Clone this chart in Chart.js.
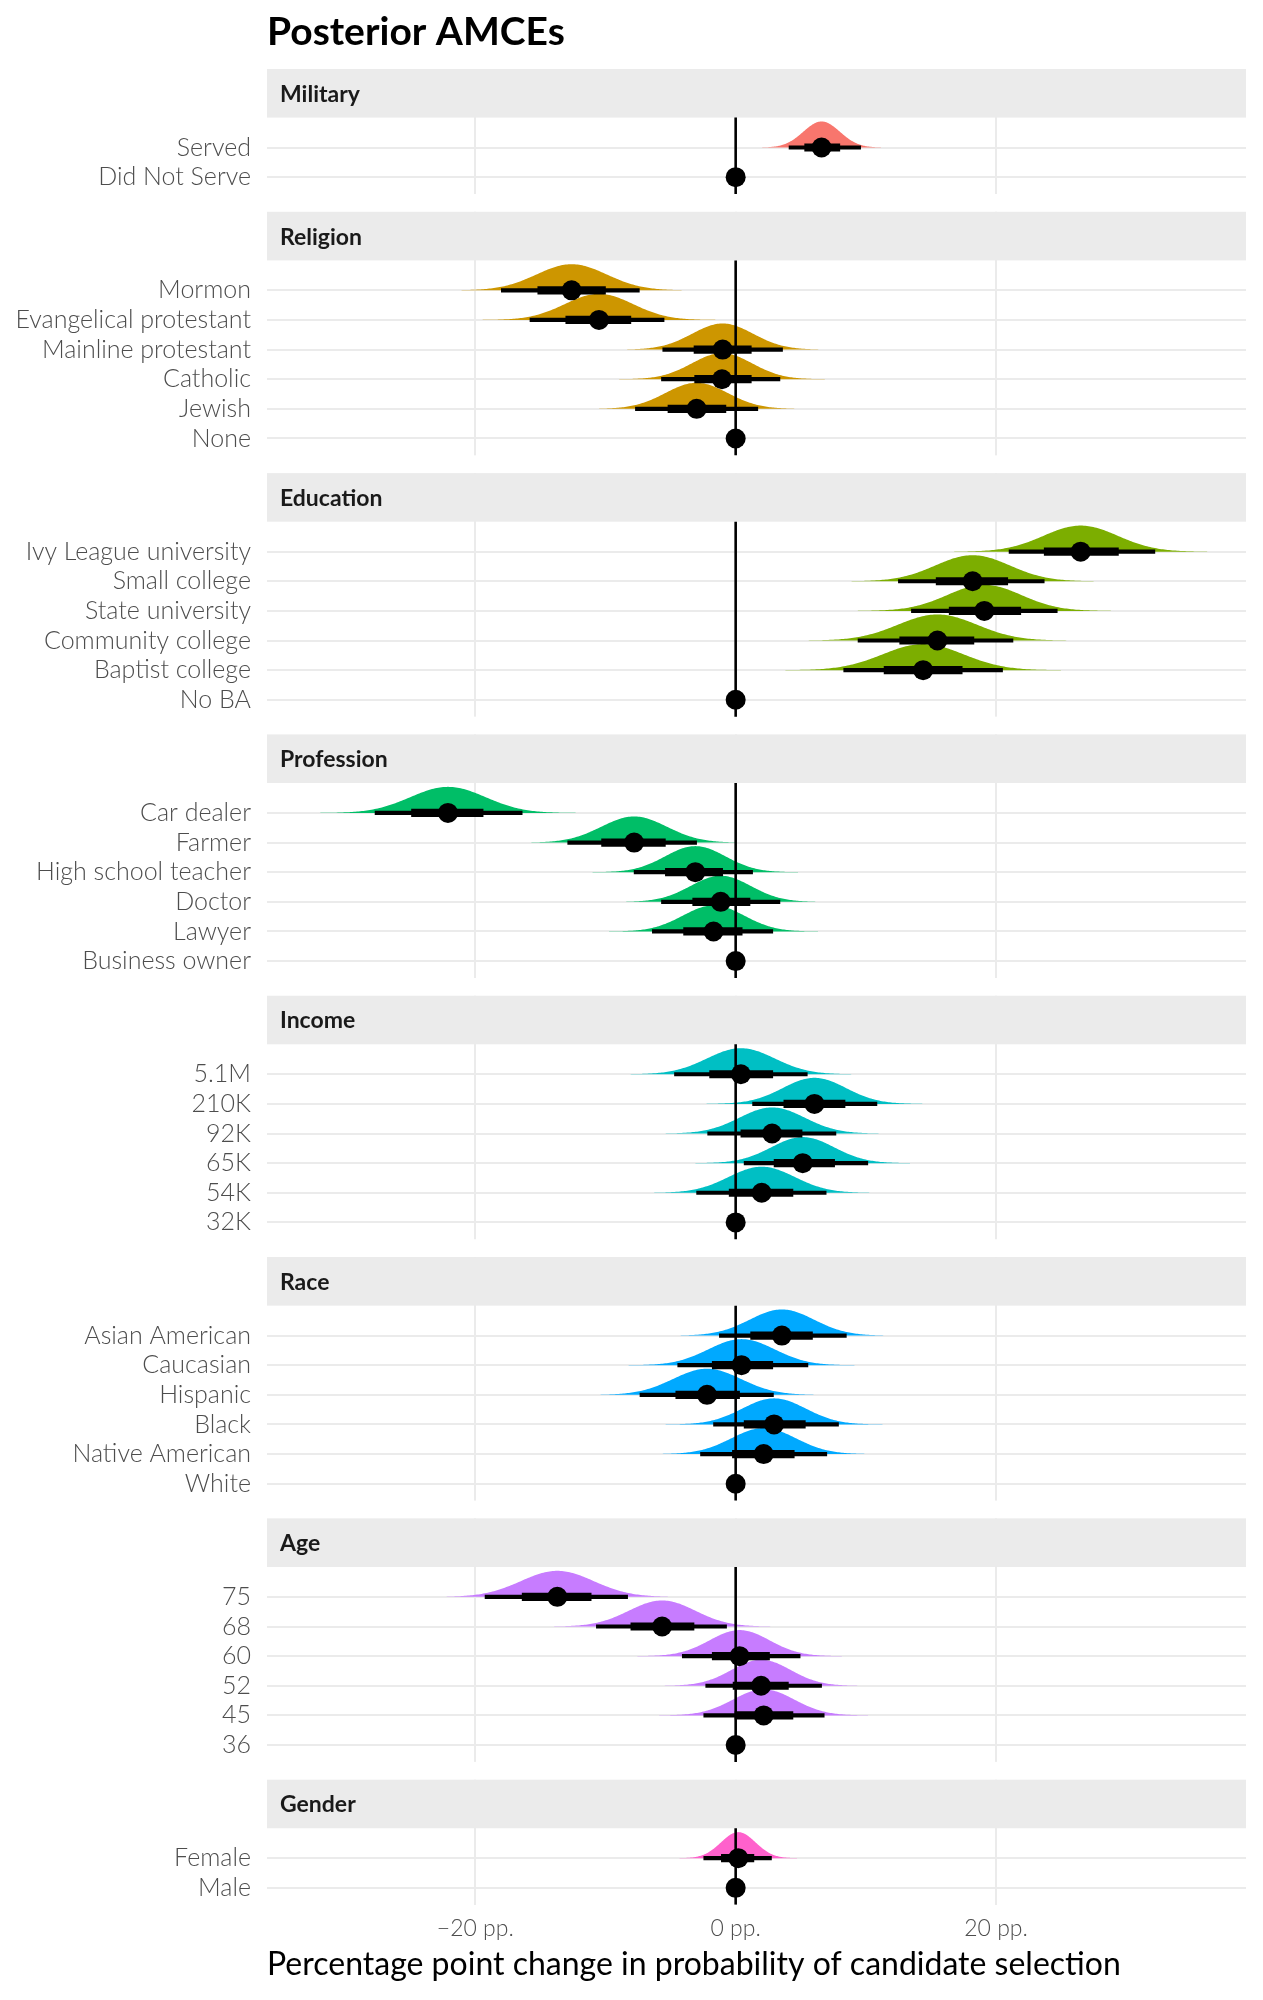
<!DOCTYPE html>
<html>
<head>
<meta charset="utf-8">
<title>Posterior AMCEs</title>
<script src="https://cdn.jsdelivr.net/npm/chart.js@4.4.1/dist/chart.umd.min.js"></script>
<style>
  html, body { margin: 0; padding: 0; background: #fff; }
  #wrap { width: 1263px; height: 2000px; }
</style>
</head>
<body>
<div id="wrap"><canvas id="amceChart" width="1263" height="2000"></canvas></div>
<script>
// Values, in percentage points.
// median = point estimate, inner = 66% interval, outer = 95% interval, null = reference level
const militaryLevels = ['Served', 'Did Not Serve'];
const militaryMedian = [6.6, 0];
const militaryInner  = [[5.3, 8.0], null];
const militaryOuter  = [[4.1, 9.6], null];

const religionLevels = ['Mormon', 'Evangelical protestant', 'Mainline protestant', 'Catholic', 'Jewish', 'None'];
const religionMedian = [-12.6, -10.5, -1.0, -1.05, -3.0, 0];
const religionInner  = [[-15.2, -10.0], [-13.05, -8.05], [-3.2, 1.2], [-3.15, 1.2], [-5.2, -0.75], null];
const religionOuter  = [[-18.0, -7.4], [-15.8, -5.5], [-5.6, 3.6], [-5.7, 3.4], [-7.7, 1.7], null];

const educationLevels = ['Ivy League university', 'Small college', 'State university', 'Community college', 'Baptist college', 'No BA'];
const educationMedian = [26.5, 18.2, 19.1, 15.5, 14.4, 0];
const educationInner  = [[23.7, 29.4], [15.4, 20.9], [16.4, 21.9], [12.6, 18.3], [11.4, 17.4], null];
const educationOuter  = [[21.0, 32.2], [12.5, 23.7], [13.5, 24.7], [9.4, 21.3], [8.3, 20.5], null];

const professionLevels = ['Car dealer', 'Farmer', 'High school teacher', 'Doctor', 'Lawyer', 'Business owner'];
const professionMedian = [-22.1, -7.8, -3.1, -1.15, -1.7, 0];
const professionInner  = [[-24.9, -19.4], [-10.3, -5.4], [-5.4, -1.0], [-3.3, 1.1], [-4.0, 0.5], null];
const professionOuter  = [[-27.7, -16.4], [-12.9, -3.0], [-7.8, 1.3], [-5.7, 3.4], [-6.4, 2.85], null];

const incomeLevels = ['5.1M', '210K', '92K', '65K', '54K', '32K'];
const incomeMedian = [0.4, 6.05, 2.8, 5.15, 2.0, 0];
const incomeInner  = [[-2.0, 2.85], [3.7, 8.4], [0.4, 5.1], [2.95, 7.6], [-0.5, 4.4], null];
const incomeOuter  = [[-4.7, 5.5], [1.3, 10.85], [-2.15, 7.7], [0.65, 10.15], [-3.0, 6.95], null];

const raceLevels = ['Asian American', 'Caucasian', 'Hispanic', 'Black', 'Native American', 'White'];
const raceMedian = [3.55, 0.45, -2.2, 2.95, 2.15, 0];
const raceInner  = [[1.15, 5.9], [-1.8, 2.85], [-4.6, 0.3], [0.65, 5.35], [-0.25, 4.5], null];
const raceOuter  = [[-1.25, 8.5], [-4.45, 5.55], [-7.35, 2.9], [-1.7, 7.9], [-2.7, 7.0], null];

const ageLevels = ['75', '68', '60', '52', '45', '36'];
const ageMedian = [-13.7, -5.65, 0.3, 1.95, 2.15, 0];
const ageInner  = [[-16.4, -11.1], [-8.05, -3.2], [-1.8, 2.6], [-0.2, 4.05], [-0.05, 4.4], null];
const ageOuter  = [[-19.25, -8.3], [-10.7, -0.7], [-4.1, 4.95], [-2.3, 6.6], [-2.45, 6.8], null];

const genderLevels = ['Female', 'Male'];
const genderMedian = [0.2, 0];
const genderInner  = [[-1.1, 1.4], null];
const genderOuter  = [[-2.45, 2.75], null];

const xTicks = [-20, 0, 20];
const facetColors = ['#F8766D', '#CD9600', '#7CAE00', '#00BE67', '#00BFC4', '#00A9FF', '#C77CFF', '#FF61CC'];

const facets = [
  { name: 'Military',   levels: militaryLevels,   median: militaryMedian,   inner: militaryInner,   outer: militaryOuter },
  { name: 'Religion',   levels: religionLevels,   median: religionMedian,   inner: religionInner,   outer: religionOuter },
  { name: 'Education',  levels: educationLevels,  median: educationMedian,  inner: educationInner,  outer: educationOuter },
  { name: 'Profession', levels: professionLevels, median: professionMedian, inner: professionInner, outer: professionOuter },
  { name: 'Income',     levels: incomeLevels,     median: incomeMedian,     inner: incomeInner,     outer: incomeOuter },
  { name: 'Race',       levels: raceLevels,       median: raceMedian,       inner: raceInner,       outer: raceOuter },
  { name: 'Age',        levels: ageLevels,        median: ageMedian,        inner: ageInner,        outer: ageOuter },
  { name: 'Gender',     levels: genderLevels,     median: genderMedian,     inner: genderInner,     outer: genderOuter }
];

// facet layout along y, in row units (one row = 1)
const STRIP = 1.64, TOP_PAD = 1.01, BOT_PAD = 0.57, GAP = 0.60, SLAB = 0.88;
let cursor = 0;
facets.forEach(f => {
  f.stripTop = cursor;
  f.stripBottom = cursor + STRIP;
  f.rows = f.levels.map((_, i) => f.stripBottom + TOP_PAD + i);
  f.panelBottom = f.rows[f.rows.length - 1] + BOT_PAD;
  cursor = f.panelBottom + GAP;
});
const yMax = facets[facets.length - 1].panelBottom;

const rowValues = [], rowLabels = [];
const outerBars = [], innerBars = [], points = [];
facets.forEach(f => {
  f.levels.forEach((lab, i) => {
    rowValues.push(f.rows[i]);
    rowLabels.push(lab);
    points.push({ x: f.median[i], y: f.rows[i] });
    if (f.outer[i]) outerBars.push({ x: f.outer[i], y: f.rows[i] });
    if (f.inner[i]) innerBars.push({ x: f.inner[i], y: f.rows[i] });
  });
});

// strips, half-eye slabs and the zero line, drawn under the intervals
const facetDecor = {
  id: 'facetDecor',
  beforeDatasetsDraw(chart) {
    const { ctx, chartArea: a, scales: { x, y } } = chart;
    ctx.save();
    ctx.beginPath();
    ctx.rect(a.left, a.top, a.right - a.left, a.bottom - a.top);
    ctx.clip();
    facets.forEach((f, fi) => {
      // white gap below the panel
      if (fi < facets.length - 1) {
        const g0 = y.getPixelForValue(f.panelBottom);
        const g1 = y.getPixelForValue(facets[fi + 1].stripTop);
        ctx.fillStyle = '#fff';
        ctx.fillRect(a.left, g0, a.right - a.left, g1 - g0);
      }
      const s0 = y.getPixelForValue(f.stripTop);
      const s1 = y.getPixelForValue(f.stripBottom);
      ctx.fillStyle = '#ebebeb';
      ctx.fillRect(a.left, s0, a.right - a.left, s1 - s0);
      ctx.fillStyle = '#1a1a1a';
      ctx.font = 'bold 23px Lato';
      ctx.textAlign = 'left';
      ctx.textBaseline = 'middle';
      ctx.fillText(f.name, a.left + 13, (s0 + s1) / 2 + 1);

      // slabs: normal density built from the median and 95% interval
      f.levels.forEach((_, i) => {
        if (!f.outer[i]) return;
        const m = f.median[i];
        const sd = (f.outer[i][1] - f.outer[i][0]) / 3.92;
        const base = y.getPixelForValue(f.rows[i]);
        const h = base - y.getPixelForValue(f.rows[i] - SLAB);
        const lo = m - 3.4 * sd, hi = m + 3.4 * sd, n = 160;
        ctx.beginPath();
        ctx.moveTo(x.getPixelForValue(lo), base);
        for (let k = 0; k <= n; k++) {
          const v = lo + (hi - lo) * k / n;
          const z = (v - m) / sd;
          ctx.lineTo(x.getPixelForValue(v), base - h * Math.exp(-0.5 * z * z));
        }
        ctx.lineTo(x.getPixelForValue(hi), base);
        ctx.closePath();
        ctx.fillStyle = facetColors[fi];
        ctx.fill();
      });

      // zero reference line
      const x0 = x.getPixelForValue(0);
      ctx.beginPath();
      ctx.moveTo(x0, s1);
      ctx.lineTo(x0, y.getPixelForValue(f.panelBottom));
      ctx.lineWidth = 2.6;
      ctx.strokeStyle = '#000';
      ctx.stroke();
    });
    ctx.restore();
  },
  afterDraw(chart) {
    const { ctx, chartArea: a } = chart;
    ctx.save();
    ctx.fillStyle = '#000';
    ctx.font = 'bold 39px Lato';
    ctx.textAlign = 'left';
    ctx.textBaseline = 'alphabetic';
    ctx.fillText('Posterior AMCEs', a.left, 45);
    ctx.restore();
  }
};

const ctx = document.getElementById('amceChart').getContext('2d');
const amceChart = new Chart(ctx, {
  type: 'bar',
  data: {
    datasets: [
      { type: 'scatter', label: 'Median', data: points, backgroundColor: '#000',
        pointRadius: 10, borderWidth: 0, order: 1 },
      { type: 'bar', label: '66% interval', data: innerBars, backgroundColor: '#000',
        barThickness: 7.5, grouped: false, order: 2 },
      { type: 'bar', label: '95% interval', data: outerBars, backgroundColor: '#000',
        barThickness: 3.5, grouped: false, order: 3 }
    ]
  },
  options: {
    indexAxis: 'y',
    responsive: false,
    animation: false,
    events: [],
    layout: { padding: { top: 69, right: 17, bottom: 0, left: 0 } },
    plugins: { legend: { display: false }, tooltip: { enabled: false } },
    scales: {
      x: {
        type: 'linear', min: -36.0, max: 39.2,
        afterBuildTicks: axis => { axis.ticks = xTicks.map(v => ({ value: v })); },
        afterFit: axis => { axis.height = 95.3; },
        grid: { color: '#ebebeb', lineWidth: 2, drawTicks: false },
        border: { display: false },
        ticks: {
          color: '#4d4d4d', padding: 10,
          font: { family: 'Lato', size: 23, weight: '300' },
          callback: v => (v < 0 ? '\u2212' + Math.abs(v) : v) + ' pp.'
        },
        title: {
          display: true, align: 'start', color: '#000',
          text: 'Percentage point change in probability of candidate selection',
          font: { family: 'Lato', size: 32 },
          padding: { top: 0, bottom: 16 }
        }
      },
      y: {
        type: 'linear', min: 0, max: yMax, reverse: true, offset: false,
        afterBuildTicks: axis => { axis.ticks = rowValues.map(v => ({ value: v })); },
        afterFit: axis => { axis.width = 267; },
        grid: { color: '#ebebeb', lineWidth: 2, drawTicks: false, offset: false },
        border: { display: false },
        ticks: {
          autoSkip: false, color: '#4d4d4d', padding: 16,
          font: { family: 'Lato', size: 25, weight: '300' },
          callback: (v, i) => rowLabels[i]
        }
      }
    }
  },
  plugins: [facetDecor]
});
</script>
</body>
</html>
